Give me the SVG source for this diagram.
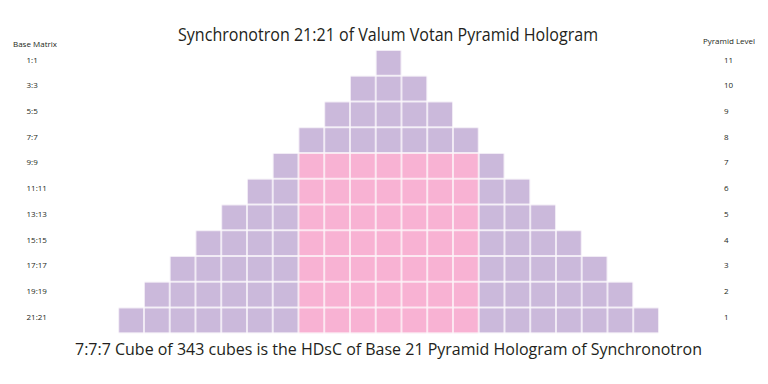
<svg xmlns="http://www.w3.org/2000/svg" xmlns:xlink="http://www.w3.org/1999/xlink" width="768" height="384" viewBox="0 0 768 384">
<defs>
<style>
text{font-family:"Open Sans","Liberation Sans",sans-serif;fill:#231f20}
.lbl{font-size:8px}
.title{font-size:18px}
.foot{font-size:16.5px}
</style>
<pattern id="pp" patternUnits="userSpaceOnUse" x="118.225" y="50" width="25.75" height="25.75">
<rect x="0" y="0" width="25.75" height="25.75" fill="#cbb9db" stroke="#fbf8fc" stroke-width="1.6"/>
</pattern>
<pattern id="pk" patternUnits="userSpaceOnUse" x="118.225" y="50" width="25.75" height="25.75">
<rect x="0" y="0" width="25.75" height="25.75" fill="#f8b2d3" stroke="#fdf5f9" stroke-width="1.6"/>
</pattern>
</defs>
<rect width="768" height="384" fill="#ffffff"/>
<text class="title" x="388" y="40.5" text-anchor="middle" textLength="420" lengthAdjust="spacingAndGlyphs">Synchronotron 21:21 of Valum Votan Pyramid Hologram</text>
<g id="pyramid">
<rect x="375.725" y="50" width="25.75" height="25.75" fill="url(#pp)"/>
<rect x="349.975" y="75.75" width="77.25" height="25.75" fill="url(#pp)"/>
<rect x="324.225" y="101.5" width="128.75" height="25.75" fill="url(#pp)"/>
<rect x="298.475" y="127.25" width="180.25" height="25.75" fill="url(#pp)"/>
<rect x="272.725" y="153" width="231.75" height="25.75" fill="url(#pp)"/>
<rect x="246.975" y="178.75" width="283.25" height="25.75" fill="url(#pp)"/>
<rect x="221.225" y="204.5" width="334.75" height="25.75" fill="url(#pp)"/>
<rect x="195.475" y="230.25" width="386.25" height="25.75" fill="url(#pp)"/>
<rect x="169.725" y="256" width="437.75" height="25.75" fill="url(#pp)"/>
<rect x="143.975" y="281.75" width="489.25" height="25.75" fill="url(#pp)"/>
<rect x="118.225" y="307.5" width="540.75" height="25.75" fill="url(#pp)"/>
<rect id="cube" x="298.475" y="153" width="180.25" height="180.25" fill="url(#pk)"/>
</g>
<g id="base-matrix" class="lbl">
<text x="13" y="46.5">Base Matrix</text>
<text x="26.5" y="62.6">1:1</text>
<text x="26.5" y="88.3">3:3</text>
<text x="26.5" y="114">5:5</text>
<text x="26.5" y="139.7">7:7</text>
<text x="26.5" y="165.4">9:9</text>
<text x="26.5" y="191.1">11:11</text>
<text x="26.5" y="216.8">13:13</text>
<text x="26.5" y="242.5">15:15</text>
<text x="26.5" y="268.2">17:17</text>
<text x="26.5" y="293.9">19:19</text>
<text x="26.5" y="319.6">21:21</text>
</g>
<g id="pyramid-level" class="lbl">
<text x="703" y="44">Pyramid Level</text>
<text x="724" y="62.6">11</text>
<text x="724" y="88.3">10</text>
<text x="724" y="114">9</text>
<text x="724" y="139.7">8</text>
<text x="724" y="165.4">7</text>
<text x="724" y="191.1">6</text>
<text x="724" y="216.8">5</text>
<text x="724" y="242.5">4</text>
<text x="724" y="268.2">3</text>
<text x="724" y="293.9">2</text>
<text x="724" y="319.6">1</text>
</g>
<text class="foot" x="388.5" y="355" text-anchor="middle" textLength="627" lengthAdjust="spacingAndGlyphs">7:7:7 Cube of 343 cubes is the HDsC of Base 21 Pyramid Hologram of Synchronotron</text>
</svg>
